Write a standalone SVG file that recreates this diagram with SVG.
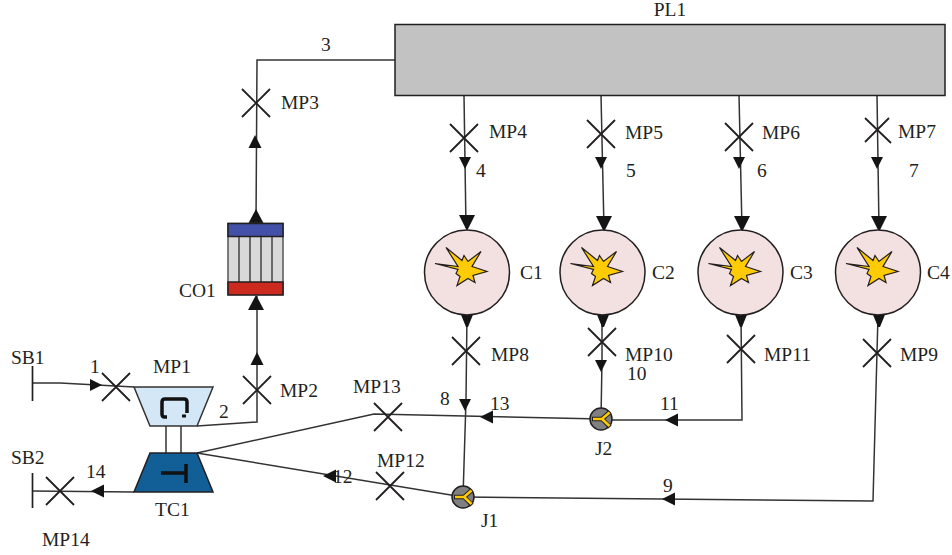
<svg xmlns="http://www.w3.org/2000/svg" width="952" height="555" viewBox="0 0 952 555">
<style>
text{font-family:"Liberation Serif","Times New Roman",serif;font-size:19.500px;fill:#231f20}
.c{fill:none;stroke:#333;stroke-width:1.500}
.b{fill:none;stroke:#231f20;stroke-width:1.800}
.a{fill:#141414;stroke:none}
.o{fill:none;stroke:#231f20;stroke-width:1.700}
</style>
<defs>
<g id="x"><path class="b" d="M-14-14L14 14M-14 14L14-14"/></g>
<g id="ad"><path class="a" d="M-8-16H8L0 0Z"/></g>
<g id="ab"><path class="a" d="M-7.500-15Q0-13 7.500-15L1 1H-1Z"/></g>
<g id="as"><path class="a" d="M-6-12H6L0 0Z"/></g>
<g id="al"><path class="a" d="M13-6.500V6.500L0 0Z"/></g>
<g id="au"><path class="a" d="M-6.500 13H6.500L0 0Z"/></g>
<g id="aub"><path class="a" d="M-8 15H8L0 0Z"/></g>
<g id="combustor">
<circle r="42.500" fill="#f3e0e0" stroke="#231f20" stroke-width="1.500"/>
<path d="M-21-25L-5-12-3-17 1-11 14-21 5-6 20-1 6 3 8 10 1 6-10 13-7 4-11 1-9-3-32-9-9-6Z" fill="#ffcb05" stroke="#231f20" stroke-width="1.200"/>
</g>
<g id="junction">
<circle r="11" fill="#808080" stroke="#231f20" stroke-width="1.500"/>
<path d="M-9 0H1L9-7M1 0L9 8" fill="none" stroke="#231f20" stroke-width="4.500"/>
<path d="M-8 0H1L8.500-6.500M1 0L8.500 7" fill="none" stroke="#ffcb05" stroke-width="2.600"/>
</g>
</defs>

<g id="connectors">
<path class="c" d="M32 383H60L134 387"/>
<path class="c" d="M197 426L257 422V296"/>
<path class="c" d="M256 224L257 60H395"/>
<path class="c" d="M464 95L466 228"/>
<path class="c" d="M601 95L604 229"/>
<path class="c" d="M739 95L742 229"/>
<path class="c" d="M877 95L879 229"/>
<path class="c" d="M467 314L466 400 463 497"/>
<path class="c" d="M602 315V360L601 419"/>
<path class="c" d="M741 315L742 420H601"/>
<path class="c" d="M878 315L873 501 463 497"/>
<path class="c" d="M601 419L374 414 197 453"/>
<path class="c" d="M463 497L197 453"/>
<path class="c" d="M134 492L32 491"/>
<path class="a" d="M90 379V391L102 385Z"/>
<use href="#au" x="255" y="135"/>
<use href="#au" x="257" y="352"/>
<use href="#aub" x="256" y="209"/>
<use href="#aub" x="256" y="295"/>
<use href="#as" x="465" y="169"/>
<use href="#as" x="601" y="169"/>
<use href="#as" x="739" y="169"/>
<use href="#as" x="877" y="169"/>
<use href="#ad" x="467" y="231"/>
<use href="#ad" x="604" y="232"/>
<use href="#ad" x="742" y="232"/>
<use href="#ad" x="879" y="232"/>
<use href="#ab" x="467" y="326"/>
<use href="#ab" x="603" y="326"/>
<use href="#ab" x="741" y="326"/>
<use href="#ab" x="879" y="326"/>
<use href="#as" x="465" y="411"/>
<use href="#as" x="601" y="372"/>
<use href="#al" x="480" y="417"/>
<use href="#al" x="665" y="420"/>
<use href="#al" x="662" y="499"/>
<use href="#al" x="323" y="476"/>
<use href="#al" x="91" y="491"/>
</g>

<g id="PL1"><rect x="395" y="24.500" width="550" height="71" fill="#c1c2c1" stroke="#231f20" stroke-width="1.500"/><text x="670" y="16" text-anchor="middle">PL1</text></g>

<g id="SB1"><path class="o" d="M32.500 366V401"/><text x="11" y="364">SB1</text></g>
<g id="SB2"><path class="o" d="M32.500 473V508"/><text x="11" y="464">SB2</text></g>

<g id="MP1"><path d="M134 387H213L197 426H150Z" fill="#d4e7f6" stroke="#333" stroke-width="1.500"/>
<path d="M167 417H164.500Q162 417 162 414V402Q162 399 165 399H184Q187 399 187 402V413" fill="none" stroke="#111" stroke-width="3.500"/><path d="M182 416H186" stroke="#111" stroke-width="3"/>
<text x="153" y="373">MP1</text></g>
<g id="shaft"><path d="M166 426V453M181 426V453" fill="none" stroke="#333" stroke-width="1.500"/></g>
<g id="TC1"><path d="M134 492H213L197 453H150Z" fill="#125e97" stroke="#231f20" stroke-width="1.500"/>
<path d="M161 473H187M186 464V483" fill="none" stroke="#111" stroke-width="3.500"/>
<text x="155" y="516">TC1</text></g>

<g id="CO1">
<rect x="228" y="223.500" width="55" height="71" fill="#d9d9d9" stroke="#555" stroke-width="1.500"/>
<path d="M239 236V282M250 236V282M261 236V282M272 236V282" stroke="#444" stroke-width="1.500"/>
<rect x="228" y="223.500" width="55" height="13" fill="#4350a8" stroke="#231f20" stroke-width="1.500"/>
<rect x="228" y="282" width="55" height="13" fill="#cc2a1e" stroke="#231f20" stroke-width="1.500"/>
<text x="179" y="297">CO1</text></g>

<g id="C1"><use href="#combustor" x="467" y="272.500"/><text x="520" y="279">C1</text></g>
<g id="C2"><use href="#combustor" x="602.500" y="272.500"/><text x="652" y="279">C2</text></g>
<g id="C3"><use href="#combustor" x="740.500" y="272.500"/><text x="790" y="279">C3</text></g>
<g id="C4"><use href="#combustor" x="878" y="272.500"/><text x="927" y="279">C4</text></g>

<g id="J1"><use href="#junction" x="463" y="497"/><text x="481" y="527">J1</text></g>
<g id="J2"><use href="#junction" x="601" y="419"/><text x="595" y="455">J2</text></g>

<g id="MP2v"><use href="#x" x="257" y="390"/><text x="280" y="397">MP2</text></g>
<g id="MP3v"><use href="#x" x="256" y="103"/><text x="281" y="109">MP3</text></g>
<g id="MP4v"><use href="#x" x="464" y="138"/><text x="489" y="138">MP4</text></g>
<g id="MP5v"><use href="#x" x="601" y="134"/><text x="625" y="139">MP5</text></g>
<g id="MP6v"><use href="#x" x="739" y="137"/><text x="762" y="139">MP6</text></g>
<g id="MP7v"><path class="b" transform="translate(877 130)" d="M-12-12L14 13M-12 12L12-12"/><text x="898" y="138">MP7</text></g>
<g id="MP8v"><use href="#x" x="466" y="351"/><text x="491" y="361">MP8</text></g>
<g id="MP9v"><use href="#x" x="877" y="353"/><text x="900" y="361">MP9</text></g>
<g id="MP10v"><use href="#x" x="602" y="342"/><text x="625" y="361">MP10</text></g>
<g id="MP11v"><use href="#x" x="741" y="349"/><text x="764" y="361">MP11</text></g>
<g id="MP12v"><use href="#x" x="390" y="486"/><text x="377" y="467">MP12</text></g>
<g id="MP13v"><use href="#x" x="388" y="417"/><text x="353" y="393">MP13</text></g>
<g id="MP14v"><use href="#x" x="60" y="491"/><text x="42" y="546">MP14</text></g>
<g id="MP1v"><use href="#x" x="116" y="387"/></g>

<g id="labels">
<text x="90" y="373">1</text>
<text x="219" y="418">2</text>
<text x="321" y="51">3</text>
<text x="476" y="177">4</text>
<text x="626" y="177">5</text>
<text x="757" y="177">6</text>
<text x="909" y="177">7</text>
<text x="440" y="405">8</text>
<text x="663" y="492">9</text>
<text x="627" y="380">10</text>
<text x="660" y="410">11</text>
<text x="333" y="483">12</text>
<text x="490" y="410">13</text>
<text x="86" y="478">14</text>
</g>
</svg>
